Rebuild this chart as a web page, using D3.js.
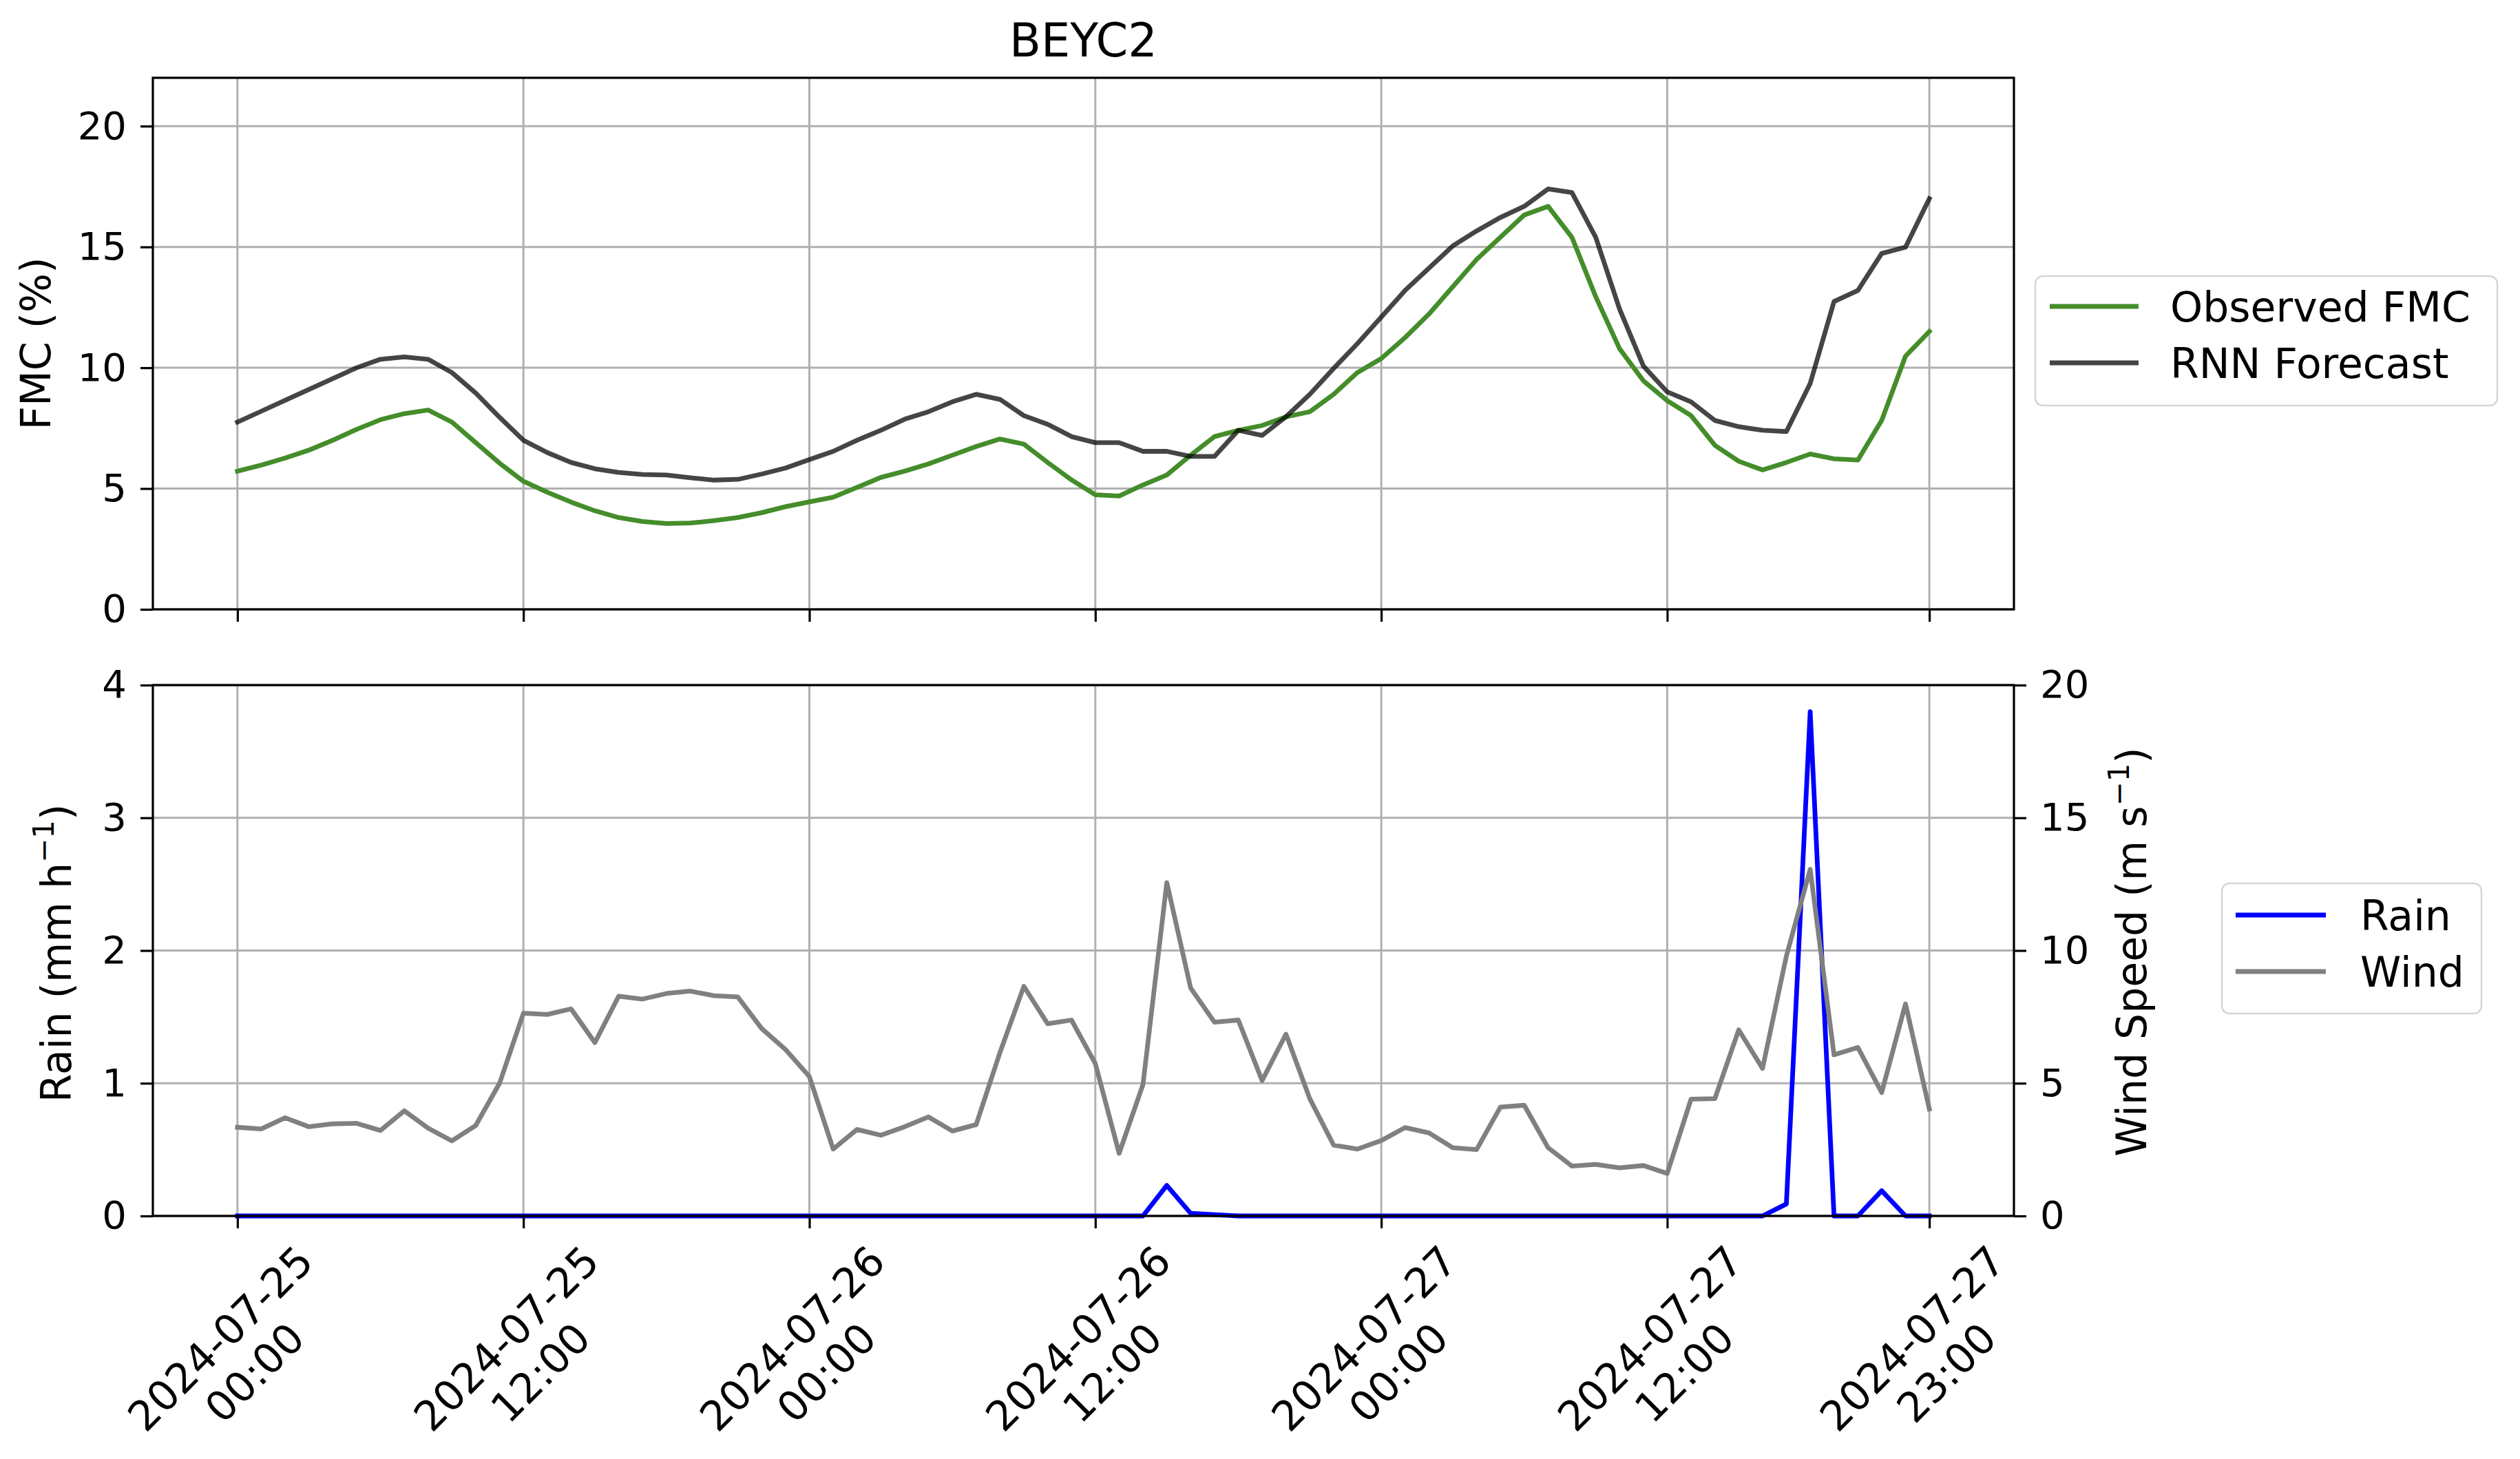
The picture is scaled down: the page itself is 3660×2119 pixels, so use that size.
<!DOCTYPE html>
<html><head><meta charset="utf-8">
<script src="https://cdn.jsdelivr.net/npm/d3@7"></script>
<style>body{margin:0;background:#fff;} svg{display:block;font-family:"DejaVu Sans",sans-serif;}</style>
</head><body>
<svg id="chart" width="3660" height="2119"></svg>
<script>
// ---------------- data ----------------
const chartTitle = "BEYC2";
const startTime = "2024-07-25T00:00:00Z";
const endTime = "2024-07-28T00:00:00Z"; // exclusive, hourly steps -> 72 points

const observedFMC = [5.72,5.97,6.26,6.59,7.0,7.45,7.85,8.1,8.25,7.75,6.9,6.05,
  5.3,4.85,4.44,4.08,3.8,3.64,3.55,3.57,3.67,3.8,4.0,4.25,
  4.45,4.64,5.05,5.46,5.72,6.02,6.38,6.74,7.05,6.84,6.08,5.36,
  4.74,4.69,5.15,5.56,6.38,7.15,7.41,7.61,7.97,8.18,8.9,9.8,
  10.38,11.25,12.22,13.35,14.48,15.4,16.32,16.68,15.4,12.94,10.79,9.46,
  8.64,8.02,6.79,6.13,5.77,6.08,6.43,6.23,6.18,7.82,10.48,11.5];

const rnnForecast = [7.75,8.2,8.65,9.1,9.55,10.0,10.35,10.45,10.35,9.8,8.95,7.95,
  7.0,6.49,6.08,5.82,5.67,5.58,5.56,5.45,5.35,5.38,5.6,5.85,
  6.2,6.54,7.0,7.41,7.87,8.18,8.59,8.9,8.69,8.02,7.66,7.15,
  6.9,6.9,6.54,6.54,6.33,6.33,7.41,7.2,7.97,8.9,9.97,11.0,
  12.1,13.2,14.12,15.04,15.66,16.22,16.68,17.4,17.25,15.4,12.43,10.07,
  9.0,8.59,7.82,7.56,7.41,7.36,9.35,12.74,13.2,14.73,14.99,17.0];

const rainRate = [0,0,0,0,0,0,0,0,0,0,0,0,
  0,0,0,0,0,0,0,0,0,0,0,0,
  0,0,0,0,0,0,0,0,0,0,0,0,
  0,0,0,0.23,0.02,0.01,0,0,0,0,0,0,
  0,0,0,0,0,0,0,0,0,0,0,0,
  0,0,0,0,0,0.09,3.8,0,0,0.19,0,0];

const windSpeed = [3.34,3.28,3.7,3.36,3.47,3.49,3.22,3.96,3.31,2.83,3.41,5.0,
  7.64,7.59,7.8,6.53,8.28,8.17,8.38,8.47,8.3,8.25,7.06,6.27,
  5.25,2.52,3.26,3.04,3.36,3.73,3.2,3.44,6.16,8.65,7.24,7.38,
  5.74,2.36,4.95,12.56,8.59,7.3,7.38,5.1,6.85,4.42,2.67,2.52,
  2.84,3.33,3.13,2.57,2.5,4.1,4.17,2.57,1.88,1.94,1.81,1.9,
  1.6,4.4,4.42,7.01,5.56,9.79,13.06,6.07,6.35,4.65,7.99,4.03];

const xTickTimes = ["2024-07-25T00:00:00Z","2024-07-25T12:00:00Z","2024-07-26T00:00:00Z",
  "2024-07-26T12:00:00Z","2024-07-27T00:00:00Z","2024-07-27T12:00:00Z","2024-07-27T23:00:00Z"];
const xTickLabels = [["2024-07-25","00:00"],["2024-07-25","12:00"],["2024-07-26","00:00"],
  ["2024-07-26","12:00"],["2024-07-27","00:00"],["2024-07-27","12:00"],["2024-07-27","23:00"]];
const fmcTicks = [0,5,10,15,20];
const rainTicks = [0,1,2,3,4];
const windTicks = [0,5,10,15,20];
const topLegend = ["Observed FMC","RNN Forecast"];
const bottomLegend = ["Rain","Wind"];

// ---------------- layout / style ----------------
const L = 222, R = 2925;
const T1 = 113, B1 = 885;
const T2 = 995, B2 = 1766;
const TICKF = 56, LABF = 60, LEGF = 60, TITF = 67, XTF = 60;
const TICKLEN = 18, TICKPAD = 20;
const LW = 6.8, GRIDW = 3, SPINEW = 3.2;
const cGreen = "#448d2a", cRNN = "#000000", rnnAlpha = 0.73, cRain = "#0000ff", cWind = "#808080";

const svg = d3.select("#chart");
svg.append("rect").attr("width",3660).attr("height",2119).attr("fill","#fff");

const times = d3.utcHour.range(new Date(startTime), new Date(endTime));
const t0 = times[0].getTime(), t1 = times[times.length-1].getTime();
const padMs = (t1 - t0) * 0.05;
const x = d3.scaleUtc().domain([new Date(t0 - padMs), new Date(t1 + padMs)]).range([L, R]);
const yF = d3.scaleLinear().domain([0,22]).range([B1, T1]);
const yR = d3.scaleLinear().domain([0,4]).range([B2, T2]);
const yW = d3.scaleLinear().domain([0,20]).range([B2, T2]);
const tickDates = xTickTimes.map(s => new Date(s));

function grid(top, bottom, yScale, yTicks) {
  const g = svg.append("g");
  g.selectAll("line.v").data(tickDates).join("line")
    .attr("x1", d => x(d)).attr("x2", d => x(d)).attr("y1", top).attr("y2", bottom)
    .attr("stroke", "#b0b0b0").attr("stroke-width", GRIDW);
  g.selectAll("line.h").data(yTicks).join("line")
    .attr("x1", L).attr("x2", R).attr("y1", d => yScale(d)).attr("y2", d => yScale(d))
    .attr("stroke", "#b0b0b0").attr("stroke-width", GRIDW);
}
grid(T1, B1, yF, fmcTicks);
grid(T2, B2, yR, rainTicks);

function drawLine(data, xs, ys, color, opacity) {
  const line = d3.line().x((d,i) => xs(times[i])).y(d => ys(d));
  svg.append("path").datum(data).attr("d", line).attr("fill","none")
    .attr("stroke", color).attr("stroke-width", LW).attr("stroke-opacity", opacity)
    .attr("stroke-linejoin","round").attr("stroke-linecap","square");
}
drawLine(observedFMC, x, yF, cGreen, 1);
drawLine(rnnForecast, x, yF, cRNN, rnnAlpha);
drawLine(rainRate, x, yR, cRain, 1);
drawLine(windSpeed, x, yW, cWind, 1);

function styleAxis(g, fs) {
  g.select(".domain").remove();
  g.selectAll(".tick line").attr("stroke","#000").attr("stroke-width", SPINEW);
  g.selectAll(".tick text").attr("font-size", fs).attr("fill","#000").attr("font-family","DejaVu Sans");
}
// y axes
styleAxis(svg.append("g").attr("transform",`translate(${L},0)`)
  .call(d3.axisLeft(yF).tickValues(fmcTicks).tickSize(TICKLEN).tickPadding(TICKPAD).tickFormat(d3.format("d"))), TICKF);
styleAxis(svg.append("g").attr("transform",`translate(${L},0)`)
  .call(d3.axisLeft(yR).tickValues(rainTicks).tickSize(TICKLEN).tickPadding(TICKPAD).tickFormat(d3.format("d"))), TICKF);
styleAxis(svg.append("g").attr("transform",`translate(${R},0)`)
  .call(d3.axisRight(yW).tickValues(windTicks).tickSize(TICKLEN).tickPadding(TICKPAD).tickFormat(d3.format("d"))), TICKF);
// x tick marks
styleAxis(svg.append("g").attr("transform",`translate(0,${B1})`)
  .call(d3.axisBottom(x).tickValues(tickDates).tickSize(TICKLEN).tickFormat("")), TICKF);
styleAxis(svg.append("g").attr("transform",`translate(0,${B2})`)
  .call(d3.axisBottom(x).tickValues(tickDates).tickSize(TICKLEN).tickFormat("")), TICKF);

// spines
[[T1,B1],[T2,B2]].forEach(([t,b]) => {
  svg.append("rect").attr("x",L).attr("y",t).attr("width",R-L).attr("height",b-t)
    .attr("fill","none").attr("stroke","#000").attr("stroke-width",SPINEW);
});

// rotated x tick labels (matplotlib style: rotated bbox centered on tick, top aligned)
tickDates.forEach((d, i) => {
  const g = svg.append("g");
  const inner = g.append("g").attr("transform","rotate(-45)");
  const txt = inner.append("text").attr("text-anchor","middle").attr("font-size", XTF).attr("fill","#000");
  xTickLabels[i].forEach((ln, j) => txt.append("tspan").attr("x",0).attr("dy", j === 0 ? 0 : XTF*1.17).text(ln));
  const bb = g.node().getBBox();
  const top = B2 + TICKLEN + 12;
  g.attr("transform", `translate(${x(d) - (bb.x + bb.width/2)},${top - bb.y})`);
});

// title
svg.append("text").attr("x",(L+R)/2).attr("y",82).attr("text-anchor","middle")
  .attr("font-size",TITF).attr("fill","#000").text(chartTitle);

// y labels
svg.append("text").attr("transform",`translate(73,${(T1+B1)/2}) rotate(-90)`)
  .attr("text-anchor","middle").attr("font-size",LABF).attr("fill","#000").text("FMC (%)");

function supLabel(xp, yp, before, sup, after) {
  const t = svg.append("text").attr("transform",`translate(${xp},${yp}) rotate(-90)`)
    .attr("text-anchor","middle").attr("font-size",LABF).attr("fill","#000");
  t.append("tspan").text(before);
  t.append("tspan").attr("font-size",LABF*0.7).attr("dy",-LABF*0.42).text(sup);
  t.append("tspan").attr("dy",LABF*0.42).text(after);
}
supLabel(103, (T2+B2)/2 + 4, "Rain (mm h", "\u22121", ")");
supLabel(3117, (T2+B2)/2 + 2, "Wind Speed (m s", "\u22121", ")");

// legends
function legend(box, rows, handleX0, handleX1, textX, labels, colors, opac) {
  svg.append("rect").attr("x",box[0]).attr("y",box[1]).attr("width",box[2]-box[0]).attr("height",box[3]-box[1])
    .attr("rx",11).attr("fill","#fff").attr("fill-opacity",0.8).attr("stroke","#d6d6d6").attr("stroke-width",2.5);
  labels.forEach((lab, i) => {
    svg.append("line").attr("x1",handleX0).attr("x2",handleX1).attr("y1",rows[i]).attr("y2",rows[i])
      .attr("stroke",colors[i]).attr("stroke-opacity",opac[i]).attr("stroke-width",LW);
    svg.append("text").attr("x",textX).attr("y",rows[i] + LEGF*0.365).attr("font-size",LEGF)
      .attr("fill","#000").text(lab);
  });
}
legend([2956,401,3627,589],[445,527],2977,3106,3152,topLegend,[cGreen,cRNN],[1,rnnAlpha]);
legend([3227,1283,3604,1472],[1329,1411],3247,3378,3428,bottomLegend,[cRain,cWind],[1,1]);
</script>
</body></html>
